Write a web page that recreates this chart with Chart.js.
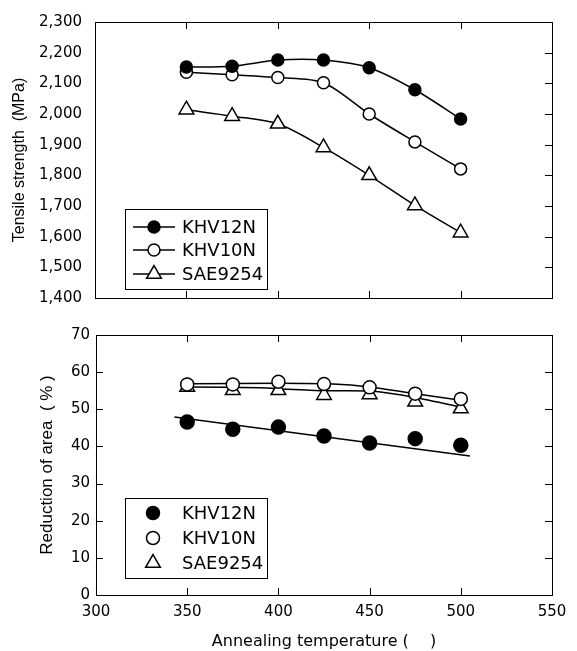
<!DOCTYPE html>
<html><head><meta charset="utf-8">
<script src="https://cdn.jsdelivr.net/npm/chart.js@4/dist/chart.umd.min.js"></script>
<style>
html,body{margin:0;padding:0;background:#fff;}
#wrap{position:relative;width:577px;height:651px;background:#fff;}
#c1{position:absolute;left:0;top:0;}
#c2{position:absolute;left:0;top:320px;}
</style></head><body>
<div id="wrap"><canvas id="c1" width="577" height="320"></canvas><canvas id="c2" width="577" height="331"></canvas></div>
<script>
// ---- data ----
const temperatures = [350, 375, 400, 425, 450, 475, 500];
const seriesNames = ['KHV12N', 'KHV10N', 'SAE9254'];
const tensileKHV12N = [2153, 2156, 2176, 2176, 2151, 2079, 1984];
const tensileKHV10N = [2136, 2128, 2119, 2102, 2000, 1909, 1821];
const tensileSAE9254 = [2014, 1993, 1968, 1891, 1800, 1702, 1613];
const reductionKHV12N = [46.6, 44.6, 45.2, 42.8, 40.9, 42.1, 40.3];
const reductionKHV10N = [56.7, 56.7, 57.4, 56.8, 55.9, 54.2, 52.8];
const reductionSAE9254 = [56.0, 55.1, 55.1, 53.8, 54.0, 52.0, 50.2];
// fitted trend curves drawn in the lower panel
const fitTempKHV12N = [343, 505];
const fitKHV12N = [47.9, 37.4];
const fitTempKHV10N = [353, 400, 430, 450, 475, 502];
const fitKHV10N = [56.9, 57.0, 56.8, 56.0, 54.2, 52.3];
const fitTempSAE9254 = [350, 390, 405, 425, 450, 475, 502];
const fitSAE9254 = [56.0, 55.8, 55.4, 55.0, 54.9, 53.2, 50.4];
// tick labels
const xTickValues = [300, 350, 400, 450, 500, 550];
const xInnerTicks = [350, 400, 450, 500];
const tensileTicks = [1400, 1500, 1600, 1700, 1800, 1900, 2000, 2100, 2200, 2300];
const reductionTicks = [0, 10, 20, 30, 40, 50, 60, 70];
const xTitle = 'Annealing temperature (\u3000 )';
const yTitleTop = 'Tensile strength  (MPa)';
const yTitleBottom = 'Reduction of area  ( % )';

// ---- rendering ----
Chart.defaults.font.family = 'DejaVu Sans';
Chart.defaults.color = '#000';
Chart.defaults.animation = false;

const pts = (xs, ys) => xs.map((x, i) => ({x, y: ys[i]}));
const styles = [
  {pointStyle: 'circle', fill: '#000'},
  {pointStyle: 'circle', fill: '#fff'},
  {pointStyle: 'triangle', fill: '#fff'}
];

function framePlugin(o) {
  return {id: 'frame', afterDraw(chart) {
    const ctx = chart.ctx, a = chart.chartArea, xs = chart.scales.x, ys = chart.scales.y;
    ctx.save();
    ctx.strokeStyle = '#000'; ctx.lineWidth = 1;
    ctx.strokeRect(a.left + 0.5, a.top + 0.5, a.right - a.left, a.bottom - a.top);
    ctx.beginPath();
    const L = 7;
    xInnerTicks.forEach(v => { const p = Math.round(xs.getPixelForValue(v)) + 0.5;
      ctx.moveTo(p, a.top); ctx.lineTo(p, a.top + L);
      ctx.moveTo(p, a.bottom); ctx.lineTo(p, a.bottom - L); });
    o.yTicks.slice(1, -1).forEach(v => { const p = Math.round(ys.getPixelForValue(v)) + 0.5;
      ctx.moveTo(a.right, p); ctx.lineTo(a.right - L, p);
      if (o.left) { ctx.moveTo(a.left, p); ctx.lineTo(a.left + L, p); } });
    ctx.stroke();
    ctx.restore();
  }};
}

function drawMarker(ctx, style, r, x, y) {
  ctx.beginPath();
  if (style.pointStyle === 'circle') {
    ctx.arc(x, y, r, 0, Math.PI * 2);
  } else {
    for (let k = 0; k < 3; k++) {
      const ang = k * 2 * Math.PI / 3;
      const px = x + Math.sin(ang) * r, py = y - Math.cos(ang) * r;
      if (k === 0) ctx.moveTo(px, py); else ctx.lineTo(px, py);
    }
    ctx.closePath();
  }
  ctx.fillStyle = style.fill; ctx.fill();
  ctx.lineWidth = 1.5; ctx.strokeStyle = '#000'; ctx.stroke();
}

function legendPlugin(o) {
  return {id: 'boxLegend', afterDraw(chart) {
    const ctx = chart.ctx;
    ctx.save();
    ctx.fillStyle = '#fff';
    ctx.fillRect(o.x0, o.y0, o.x1 - o.x0, o.y1 - o.y0);
    ctx.strokeStyle = '#000'; ctx.lineWidth = 1;
    ctx.strokeRect(o.x0 + 0.5, o.y0 + 0.5, o.x1 - o.x0, o.y1 - o.y0);
    seriesNames.forEach((name, i) => {
      const y = o.rows[i];
      if (o.lines) {
        ctx.beginPath(); ctx.moveTo(o.lx0, y); ctx.lineTo(o.lx1, y);
        ctx.lineWidth = 1.5; ctx.strokeStyle = '#000'; ctx.stroke();
      }
      drawMarker(ctx, styles[i], styles[i].pointStyle === 'circle' ? o.rc : o.rt, o.mx, y);
      ctx.fillStyle = '#000'; ctx.font = '18px "DejaVu Sans"';
      ctx.textAlign = 'left'; ctx.textBaseline = 'middle';
      ctx.fillText(name, o.tx, y + 1);
    });
    ctx.restore();
  }};
}

// ---- top chart ----
const topValues = [tensileKHV12N, tensileKHV10N, tensileSAE9254];
new Chart(document.getElementById('c1'), {
  type: 'scatter',
  data: {datasets: topValues.map((vals, i) => ({
    label: seriesNames[i], data: pts(temperatures, vals), showLine: true, tension: 0.3,
    borderColor: '#000', borderWidth: 1.5, pointStyle: styles[i].pointStyle,
    pointRadius: styles[i].pointStyle === 'circle' ? 6 : 8.5,
    pointBackgroundColor: styles[i].fill, pointBorderColor: '#000', pointBorderWidth: 1.5
  }))},
  options: {
    responsive: false, animation: false, events: [],
    layout: {padding: {left: 0, right: 25, top: 13, bottom: 11}},
    plugins: {legend: {display: false}, tooltip: {enabled: false}},
    scales: {
      x: {type: 'linear', min: 300, max: 550,
          afterBuildTicks: s => { s.ticks = xTickValues.map(v => ({value: v})); },
          ticks: {display: false}, grid: {display: false, drawTicks: false}, border: {display: false},
          afterFit: s => { s.height = 0; }},
      y: {type: 'linear', min: 1400, max: 2300,
          afterBuildTicks: s => { s.ticks = tensileTicks.map(v => ({value: v})); },
          ticks: {padding: 13, font: {size: 15}, callback: v => v.toLocaleString('en-US')},
          grid: {display: false, drawTicks: false}, border: {display: false},
          title: {display: true, text: yTitleTop, font: {size: 16, family: 'Liberation Sans'}, padding: {top: 10, bottom: 0}},
          afterFit: s => { s.width = 95; }}
    }
  },
  plugins: [framePlugin({yTicks: tensileTicks, left: false}),
            legendPlugin({x0: 125, y0: 209, x1: 267, y1: 289, rows: [227, 250, 274], lines: true,
                          lx0: 133, lx1: 175, mx: 154, tx: 182, rc: 6, rt: 8.5})]
});

// ---- bottom chart ----
const bottomValues = [reductionKHV12N, reductionKHV10N, reductionSAE9254];
const fits = [[fitTempKHV12N, fitKHV12N], [fitTempKHV10N, fitKHV10N], [fitTempSAE9254, fitSAE9254]];
const bottomSets = bottomValues.map((vals, i) => ({
  label: seriesNames[i], data: pts(temperatures, vals), showLine: false,
  pointStyle: styles[i].pointStyle,
  pointRadius: i === 0 ? 7 : (styles[i].pointStyle === 'circle' ? 6.5 : 8.5),
  pointBackgroundColor: styles[i].fill, pointBorderColor: '#000', pointBorderWidth: 1.5
})).concat(fits.map((f, i) => ({
  label: seriesNames[i] + ' fit', data: pts(f[0], f[1]), showLine: true, tension: 0.2,
  borderColor: '#000', borderWidth: 1.5, pointRadius: 0
})));
new Chart(document.getElementById('c2'), {
  type: 'scatter',
  data: {datasets: bottomSets},
  options: {
    responsive: false, animation: false, events: [],
    layout: {padding: {left: 0, right: 25, top: 15, bottom: 0}},
    plugins: {legend: {display: false}, tooltip: {enabled: false}},
    scales: {
      x: {type: 'linear', min: 300, max: 550,
          afterBuildTicks: s => { s.ticks = xTickValues.map(v => ({value: v})); },
          ticks: {padding: 8, font: {size: 15}, maxRotation: 0},
          grid: {display: false, drawTicks: false}, border: {display: false},
          title: {display: true, text: xTitle, font: {size: 16}, padding: {top: 0, bottom: 0}},
          afterFit: s => { s.height = 56; }},
      y: {type: 'linear', min: 0, max: 70,
          afterBuildTicks: s => { s.ticks = reductionTicks.map(v => ({value: v})); },
          ticks: {padding: 6, font: {size: 15}},
          grid: {display: false, drawTicks: false}, border: {display: false},
          title: {display: true, text: yTitleBottom, font: {size: 17, family: 'Liberation Sans'}, padding: {top: 37, bottom: 0}},
          afterFit: s => { s.width = 96; }}
    }
  },
  plugins: [framePlugin({yTicks: reductionTicks, left: true}),
            legendPlugin({x0: 125, y0: 178, x1: 267, y1: 258, rows: [193, 218, 243], lines: false,
                          mx: 153, tx: 182, rc: 6.5, rt: 8.5})]
});
</script>
</body></html>
